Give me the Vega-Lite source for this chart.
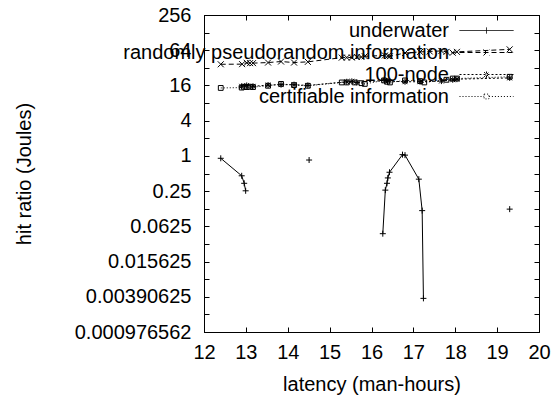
{
  "$schema": "https://vega.github.io/schema/vega-lite/v6.json",
  "width": 335,
  "height": 317,
  "autosize": {"type": "none"},
  "padding": {"left": 204, "top": 15, "right": 15, "bottom": 65},
  "background": "white",
  "config": {
    "font": "Liberation Sans",
    "view": {"stroke": "black", "strokeWidth": 1},
    "axis": {
      "grid": false,
      "domainColor": "black",
      "tickColor": "black",
      "labelColor": "black",
      "titleColor": "black",
      "labelFont": "Liberation Sans",
      "titleFont": "Liberation Sans",
      "labelFontSize": 20,
      "titleFontSize": 20,
      "titleFontWeight": "normal",
      "tickSize": -5,
      "labelFlush": false,
      "labelOverlap": false
    },
    "legend": {
      "labelFont": "Liberation Sans",
      "labelFontSize": 20,
      "labelColor": "black"
    }
  },
  "data": {
    "values": [
      {"series": "underwater", "seg": 1, "x": 12.40, "y": 0.91},
      {"series": "underwater", "seg": 1, "x": 12.90, "y": 0.457},
      {"series": "underwater", "seg": 1, "x": 12.96, "y": 0.34},
      {"series": "underwater", "seg": 1, "x": 12.995, "y": 0.253},
      {"series": "underwater", "seg": 2, "x": 14.51, "y": 0.85},
      {"series": "underwater", "seg": 3, "x": 16.27, "y": 0.0468},
      {"series": "underwater", "seg": 3, "x": 16.33, "y": 0.26},
      {"series": "underwater", "seg": 3, "x": 16.37, "y": 0.34},
      {"series": "underwater", "seg": 3, "x": 16.39, "y": 0.42},
      {"series": "underwater", "seg": 3, "x": 16.43, "y": 0.525},
      {"series": "underwater", "seg": 3, "x": 16.74, "y": 1.05},
      {"series": "underwater", "seg": 3, "x": 16.80, "y": 1.03},
      {"series": "underwater", "seg": 3, "x": 17.13, "y": 0.40},
      {"series": "underwater", "seg": 3, "x": 17.21, "y": 0.116},
      {"series": "underwater", "seg": 3, "x": 17.24, "y": 0.00367},
      {"series": "underwater", "seg": 4, "x": 19.30, "y": 0.123},

      {"series": "randomly pseudorandom information", "seg": 1, "x": 12.40, "y": 36.8},
      {"series": "randomly pseudorandom information", "seg": 1, "x": 12.91, "y": 37},
      {"series": "randomly pseudorandom information", "seg": 1, "x": 13.02, "y": 39},
      {"series": "randomly pseudorandom information", "seg": 1, "x": 13.10, "y": 38.5},
      {"series": "randomly pseudorandom information", "seg": 1, "x": 13.17, "y": 38.5},
      {"series": "randomly pseudorandom information", "seg": 1, "x": 13.53, "y": 39.4},
      {"series": "randomly pseudorandom information", "seg": 1, "x": 13.84, "y": 41},
      {"series": "randomly pseudorandom information", "seg": 1, "x": 14.15, "y": 39.4},
      {"series": "randomly pseudorandom information", "seg": 1, "x": 14.48, "y": 40.5},
      {"series": "randomly pseudorandom information", "seg": 1, "x": 15.29, "y": 47.8},
      {"series": "randomly pseudorandom information", "seg": 1, "x": 15.41, "y": 48},
      {"series": "randomly pseudorandom information", "seg": 1, "x": 15.53, "y": 48},
      {"series": "randomly pseudorandom information", "seg": 1, "x": 15.65, "y": 49},
      {"series": "randomly pseudorandom information", "seg": 1, "x": 15.76, "y": 49},
      {"series": "randomly pseudorandom information", "seg": 1, "x": 15.84, "y": 50.5},
      {"series": "randomly pseudorandom information", "seg": 1, "x": 16.32, "y": 52},
      {"series": "randomly pseudorandom information", "seg": 1, "x": 16.39, "y": 51},
      {"series": "randomly pseudorandom information", "seg": 1, "x": 16.44, "y": 50.5},
      {"series": "randomly pseudorandom information", "seg": 1, "x": 16.80, "y": 57.4},
      {"series": "randomly pseudorandom information", "seg": 1, "x": 17.16, "y": 59.9},
      {"series": "randomly pseudorandom information", "seg": 1, "x": 17.39, "y": 61},
      {"series": "randomly pseudorandom information", "seg": 1, "x": 17.67, "y": 62.2},
      {"series": "randomly pseudorandom information", "seg": 1, "x": 17.79, "y": 60},
      {"series": "randomly pseudorandom information", "seg": 1, "x": 17.94, "y": 58},
      {"series": "randomly pseudorandom information", "seg": 1, "x": 18.04, "y": 60},
      {"series": "randomly pseudorandom information", "seg": 1, "x": 19.30, "y": 66.2},

      {"series": "100-node", "seg": 1, "x": 12.90, "y": 15.5},
      {"series": "100-node", "seg": 1, "x": 13.02, "y": 16.0},
      {"series": "100-node", "seg": 1, "x": 13.17, "y": 15.5},
      {"series": "100-node", "seg": 1, "x": 13.53, "y": 16.2},
      {"series": "100-node", "seg": 1, "x": 13.84, "y": 16.5},
      {"series": "100-node", "seg": 1, "x": 14.15, "y": 16.5},
      {"series": "100-node", "seg": 1, "x": 14.48, "y": 16.0},
      {"series": "100-node", "seg": 1, "x": 15.41, "y": 18.5},
      {"series": "100-node", "seg": 1, "x": 15.53, "y": 18.8},
      {"series": "100-node", "seg": 1, "x": 15.65, "y": 18.0},
      {"series": "100-node", "seg": 1, "x": 16.32, "y": 19.5},
      {"series": "100-node", "seg": 1, "x": 16.39, "y": 19.0},
      {"series": "100-node", "seg": 1, "x": 16.80, "y": 18.5},
      {"series": "100-node", "seg": 1, "x": 17.16, "y": 18.5},
      {"series": "100-node", "seg": 1, "x": 17.67, "y": 19.0},
      {"series": "100-node", "seg": 1, "x": 17.94, "y": 20.0},
      {"series": "100-node", "seg": 1, "x": 18.04, "y": 20.5},
      {"series": "100-node", "seg": 1, "x": 19.30, "y": 21.5},

      {"series": "certifiable information", "seg": 1, "x": 12.40, "y": 14.5},
      {"series": "certifiable information", "seg": 1, "x": 12.90, "y": 14.7},
      {"series": "certifiable information", "seg": 1, "x": 12.95, "y": 15.2},
      {"series": "certifiable information", "seg": 1, "x": 13.02, "y": 15.0},
      {"series": "certifiable information", "seg": 1, "x": 13.10, "y": 15.2},
      {"series": "certifiable information", "seg": 1, "x": 13.17, "y": 15.0},
      {"series": "certifiable information", "seg": 1, "x": 13.53, "y": 15.8},
      {"series": "certifiable information", "seg": 1, "x": 13.84, "y": 17.0},
      {"series": "certifiable information", "seg": 1, "x": 14.15, "y": 16.2},
      {"series": "certifiable information", "seg": 1, "x": 14.48, "y": 15.8},
      {"series": "certifiable information", "seg": 1, "x": 15.29, "y": 18.0},
      {"series": "certifiable information", "seg": 1, "x": 15.41, "y": 18.0},
      {"series": "certifiable information", "seg": 1, "x": 15.60, "y": 18.0},
      {"series": "certifiable information", "seg": 1, "x": 15.76, "y": 17.5},
      {"series": "certifiable information", "seg": 1, "x": 15.84, "y": 17.0},
      {"series": "certifiable information", "seg": 1, "x": 16.30, "y": 19.5},
      {"series": "certifiable information", "seg": 1, "x": 16.37, "y": 18.5},
      {"series": "certifiable information", "seg": 1, "x": 16.44, "y": 18.0},
      {"series": "certifiable information", "seg": 1, "x": 16.80, "y": 19.5},
      {"series": "certifiable information", "seg": 1, "x": 17.16, "y": 19.0},
      {"series": "certifiable information", "seg": 1, "x": 17.26, "y": 18.0},
      {"series": "certifiable information", "seg": 1, "x": 17.79, "y": 20.0},
      {"series": "certifiable information", "seg": 1, "x": 17.94, "y": 21.0},
      {"series": "certifiable information", "seg": 1, "x": 18.04, "y": 21.0},
      {"series": "certifiable information", "seg": 1, "x": 19.30, "y": 22.5}
    ]
  },
  "resolve": {"axis": {"x": "independent", "y": "independent"}},
  "layer": [
    {
      "transform": [{"filter": "datum.series === 'underwater'"}],
      "mark": {"type": "line", "color": "black", "strokeWidth": 1},
      "encoding": {
        "x": {
          "field": "x", "type": "quantitative",
          "scale": {"domain": [12, 20], "nice": false, "zero": false},
          "axis": {
            "orient": "bottom",
            "title": "latency (man-hours)",
            "values": [12, 13, 14, 15, 16, 17, 18, 19, 20],
            "format": "d",
            "labelPadding": 15,
            "titlePadding": 12
          }
        },
        "y": {
          "field": "y", "type": "quantitative",
          "scale": {"type": "log", "base": 2, "domain": [0.0009765625, 256], "nice": false},
          "axis": {
            "orient": "left",
            "title": "hit ratio (Joules)",
            "values": [0.0009765625, 0.001953125, 0.00390625, 0.0078125, 0.015625, 0.03125, 0.0625, 0.125, 0.25, 0.5, 1, 2, 4, 8, 16, 32, 64, 128, 256],
            "labelExpr": "round(log(datum.value)/LN2) % 2 != 0 ? '' : (datum.value < 0.001 ? '0.000976562' : format(datum.value, '~g'))",
            "labelPadding": 18,
            "titlePadding": 40
          }
        },
        "detail": {"field": "seg"}
      }
    },
    {
      "transform": [{"filter": "datum.series === 'randomly pseudorandom information'"}],
      "mark": {"type": "line", "color": "black", "strokeWidth": 1, "strokeDash": [5, 3]},
      "encoding": {
        "x": {"field": "x", "type": "quantitative", "axis": null},
        "y": {"field": "y", "type": "quantitative", "axis": null}
      }
    },
    {
      "transform": [{"filter": "datum.series === '100-node'"}],
      "mark": {"type": "line", "color": "black", "strokeWidth": 1, "strokeDash": [2, 2]},
      "encoding": {
        "x": {"field": "x", "type": "quantitative", "axis": null},
        "y": {"field": "y", "type": "quantitative", "axis": null}
      }
    },
    {
      "transform": [{"filter": "datum.series === 'certifiable information'"}],
      "mark": {"type": "line", "color": "black", "strokeWidth": 1, "strokeDash": [1, 2]},
      "encoding": {
        "x": {"field": "x", "type": "quantitative", "axis": null},
        "y": {"field": "y", "type": "quantitative", "axis": null}
      }
    },
    {
      "transform": [{"filter": "datum.series === 'underwater'"}],
      "mark": {"type": "point", "color": "black", "filled": false, "strokeWidth": 1, "size": 36, "opacity": 1, "shape": "M-1,0H1M0,-1V1"},
      "encoding": {
        "x": {"field": "x", "type": "quantitative", "axis": null},
        "y": {"field": "y", "type": "quantitative", "axis": null}
      }
    },
    {
      "transform": [{"filter": "datum.series === 'randomly pseudorandom information'"}],
      "mark": {"type": "point", "color": "black", "filled": false, "strokeWidth": 1, "size": 36, "opacity": 1, "shape": "M-1,-1L1,1M-1,1L1,-1"},
      "encoding": {
        "x": {"field": "x", "type": "quantitative", "axis": null},
        "y": {"field": "y", "type": "quantitative", "axis": null}
      }
    },
    {
      "transform": [{"filter": "datum.series === '100-node'"}],
      "mark": {"type": "point", "color": "black", "filled": false, "strokeWidth": 1, "size": 36, "opacity": 1, "shape": "M-1,0H1M0,-1V1M-0.8,-0.8L0.8,0.8M-0.8,0.8L0.8,-0.8"},
      "encoding": {
        "x": {"field": "x", "type": "quantitative", "axis": null},
        "y": {"field": "y", "type": "quantitative", "axis": null}
      }
    },
    {
      "transform": [{"filter": "datum.series === 'certifiable information'"}],
      "mark": {"type": "point", "color": "black", "filled": false, "strokeWidth": 1, "size": 36, "opacity": 1, "shape": "M-0.8,-0.8H0.8V0.8H-0.8Z"},
      "encoding": {
        "x": {"field": "x", "type": "quantitative", "axis": null},
        "y": {"field": "y", "type": "quantitative", "axis": null}
      }
    },
    {
      "mark": {"type": "point", "filled": false, "strokeWidth": 1, "size": 36, "opacity": 0},
      "encoding": {
        "x": {
          "field": "x", "type": "quantitative",
          "axis": {"orient": "top", "labels": false, "title": null, "values": [12, 13, 14, 15, 16, 17, 18, 19, 20]}
        },
        "y": {
          "field": "y", "type": "quantitative",
          "axis": {
            "orient": "right", "labels": false, "title": null,
            "values": [0.0009765625, 0.001953125, 0.00390625, 0.0078125, 0.015625, 0.03125, 0.0625, 0.125, 0.25, 0.5, 1, 2, 4, 8, 16, 32, 64, 128, 256]
          }
        },
        "color": {
          "field": "series", "type": "nominal",
          "scale": {
            "domain": ["underwater", "randomly pseudorandom information", "100-node", "certifiable information"],
            "range": ["black", "black", "black", "black"]
          },
          "legend": {
            "title": null,
            "orient": "none",
            "legendX": 272,
            "legendY": 5,
            "padding": 0,
            "symbolSize": 400,
            "symbolStrokeWidth": 1,
            "rowPadding": 1,
            "labelAlign": "right",
            "labelOffset": -48,
            "labelLimit": 0,
            "symbolType": {"expr": "datum.value === 'underwater' ? 'M-2.7,0H2.7M0,-0.3V0.3' : datum.value === '100-node' ? 'M-2.7,0H2.7M0,-0.3V0.3M-0.24,-0.24L0.24,0.24M-0.24,0.24L0.24,-0.24' : datum.value === 'certifiable information' ? 'M-2.7,0H-0.24M0.24,0H2.7M-0.24,-0.24H0.24V0.24H-0.24Z' : 'M-2.7,0H2.7M-0.3,-0.3L0.3,0.3M-0.3,0.3L0.3,-0.3'"},
            "symbolDash": {"expr": "datum.value === 'underwater' ? [1, 0] : datum.value === '100-node' ? [2, 2] : datum.value === 'certifiable information' ? [1, 2] : [5, 3]"},
            "encode": {
              "symbols": {
                "opacity": {"value": 1},
                "fill": {"value": "transparent"}
              }
            }
          }
        }
      }
    }
  ]
}
